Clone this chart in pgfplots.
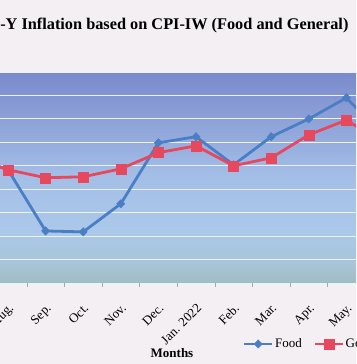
\documentclass[border=0pt]{standalone}
\usepackage{pgfplots}
\pgfplotsset{compat=1.18}
\usepackage{fontspec}
\setmainfont{Liberation Serif}
\definecolor{pagebg}{HTML}{F3EFF3}
\definecolor{foodc}{HTML}{4A7FC6}
\definecolor{genc}{HTML}{E6485E}
\definecolor{gtop}{HTML}{7A8ACB}
\definecolor{gupper}{HTML}{8FA4D9}
\definecolor{gmid}{HTML}{A4BFE7}
\definecolor{glow}{HTML}{ABC8EA}
\definecolor{gnear}{HTML}{A8C5DA}
\definecolor{gbot}{HTML}{9FBDC3}
\pgfdeclareverticalshading{plotbg}{100bp}{color(0bp)=(gbot); color(25bp)=(gbot); color(30bp)=(gnear); color(37.5bp)=(glow); color(50bp)=(gmid); color(62.5bp)=(gupper); color(75bp)=(gtop); color(100bp)=(gtop)}
\begin{document}
\begin{tikzpicture}
\useasboundingbox (0pt,0pt) rectangle (356pt,364pt);
\fill[pagebg] (0pt,0pt) rectangle (356pt,364pt);
\clip (0pt,0pt) rectangle (356pt,364pt);
\begin{axis}[
  at={(-48.4pt,81pt)}, anchor=south west,
  scale only axis, width=451.2pt, height=211pt,
  xmin=-0.5, xmax=11.5, ymin=0, ymax=9,
  axis line style={draw=none},
  axis background/.style={shading=plotbg},
  ytick={0,1,...,9}, yticklabels={}, ymajorgrids,
  major grid style={color=white!80!gmid, line width=0.9pt},
  major tick length=0pt,
  xtick={0,1,...,11},
  xticklabels={Jul.,Aug.,Sep.,Oct.,Nov.,Dec.,{Jan. 2022},Feb.,Mar.,Apr.,May.,Jun.},
  minor xtick={-0.5,0.5,...,11.5},
  minor tick length=4pt, tick align=outside, xtick pos=bottom, ytick pos=left,
  minor tick style={color=gray!70, line width=0.6pt},
  xticklabel style={rotate=45, anchor=north east, font=\fontsize{13}{15}\selectfont},
  xticklabel shift=15pt,
  legend columns=2,
  legend style={at={(0.645,-0.289)}, anchor=west, draw=none, fill=none,
    font=\fontsize{13}{15}\selectfont, inner sep=0pt,
    nodes={inner sep=1.5pt},
    /tikz/every even column/.append style={column sep=10pt}},
  legend image code/.code={\draw[mark repeat=2,mark phase=2,#1] plot coordinates {(0pt,0pt) (14pt,0pt) (28pt,0pt)};},
]
\addplot[foodc, line width=2.8pt, mark=diamond*, mark size=4.2pt,
  mark options={solid, fill=foodc, line width=0.4pt, xscale=1.3}]
  coordinates {(0,5.40) (1,4.83) (2,2.22) (3,2.18) (4,3.38) (5,5.98) (6,6.24) (7,5.04) (8,6.24) (9,7.00) (10,7.90) (11,6.24)};
\addlegendentry{Food}
\addplot[genc, line width=2.8pt, mark=square*, mark size=5pt,
  mark options={solid, fill=genc, line width=0.4pt}]
  coordinates {(0,5.40) (1,4.83) (2,4.49) (3,4.53) (4,4.87) (5,5.56) (6,5.85) (7,5.00) (8,5.34) (9,6.32) (10,6.95) (11,5.95)};
\addlegendentry{General}
\end{axis}
\node[anchor=base east, font=\bfseries\fontsize{16.3}{19}\selectfont] at (352pt,334pt) {Y-o-Y Inflation based on CPI-IW (Food and General)};
\node[anchor=base, font=\bfseries\fontsize{13}{15}\selectfont] at (172pt,6pt) {Months};
\end{tikzpicture}
\end{document}
